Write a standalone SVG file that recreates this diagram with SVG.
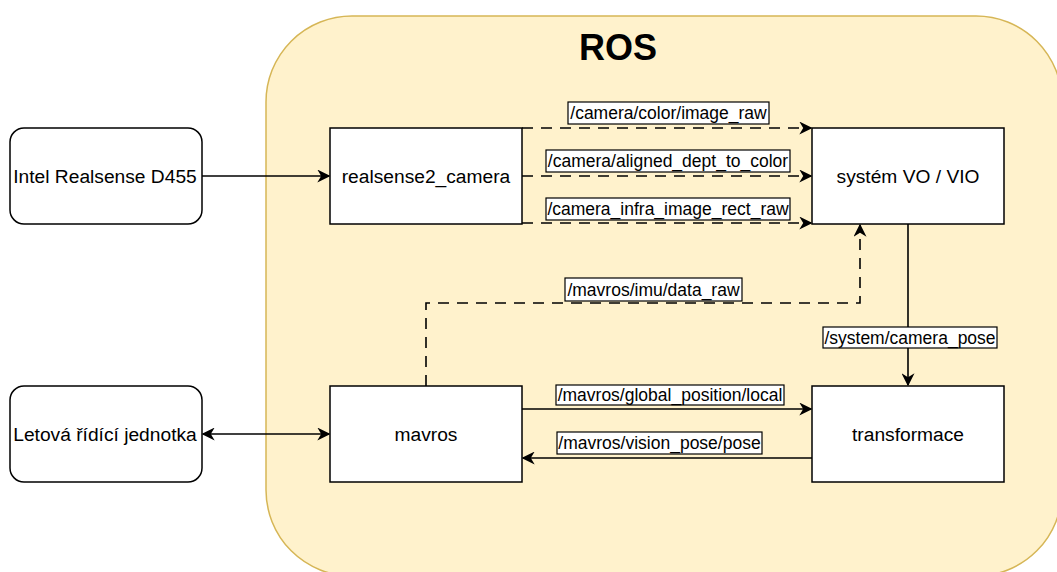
<svg xmlns="http://www.w3.org/2000/svg" width="1057" height="572" viewBox="0 0 1057 572">
<defs>
<style>
.node{fill:#fff;stroke:#000;stroke-width:1.5}
.t{font-family:"Liberation Sans",Arial,sans-serif;font-size:19.2px;fill:#000;text-anchor:middle;dominant-baseline:central}
.lt{font-family:"Liberation Sans",Arial,sans-serif;font-size:17.5px;fill:#000;text-anchor:middle;dominant-baseline:central}
.lb{fill:#fff;stroke:#000;stroke-width:1.2}
.e{fill:none;stroke:#000;stroke-width:1.6}
.d{stroke-dasharray:11 8}
</style>
<marker id="a" viewBox="0 0 10 10" refX="9" refY="5" markerWidth="13" markerHeight="13" markerUnits="userSpaceOnUse" orient="auto-start-reverse">
<path d="M0,0 L10,5 L0,10 L3,5 Z" fill="#000"/>
</marker>
</defs>
<g id="ros">
<rect x="266" y="16" width="796" height="560" rx="86" ry="86" fill="#fff2cc" stroke="#d6b656" stroke-width="1.5"/>
<text x="618" y="47" font-family="Liberation Sans,Arial,sans-serif" font-size="36" font-weight="bold" text-anchor="middle" dominant-baseline="central">ROS</text>
</g>
<g id="connectors">
<path class="e" d="M202,176 H329" marker-end="url(#a)"/>
<path class="e d" d="M522,128 H811" marker-end="url(#a)"/>
<path class="e d" d="M522,176 H811" marker-end="url(#a)"/>
<path class="e d" d="M522,223 H811" marker-end="url(#a)"/>
<path class="e d" d="M426,386 V303 H860 V225" marker-end="url(#a)"/>
<path class="e" d="M908,224 V385" marker-end="url(#a)"/>
<path class="e" d="M522,409 H811" marker-end="url(#a)"/>
<path class="e" d="M812,458 H523" marker-end="url(#a)"/>
<path class="e" d="M203,434 H329" marker-start="url(#a)" marker-end="url(#a)"/>
<rect class="lb" x="568" y="102" width="201" height="22"/>
<text class="lt" x="668.5" y="113">/camera/color/image_raw</text>
<rect class="lb" x="546" y="150" width="244" height="22"/>
<text class="lt" x="668" y="161">/camera/aligned_dept_to_color</text>
<rect class="lb" x="546" y="198" width="244" height="22"/>
<text class="lt" x="668" y="209">/camera_infra_image_rect_raw</text>
<rect class="lb" x="565" y="278" width="177" height="23"/>
<text class="lt" x="653.5" y="289.5">/mavros/imu/data_raw</text>
<rect class="lb" x="823" y="327" width="174" height="21"/>
<text class="lt" x="910" y="337.5">/system/camera_pose</text>
<rect class="lb" x="556" y="385" width="228" height="20"/>
<text class="lt" x="670" y="395">/mavros/global_position/local</text>
<rect class="lb" x="557" y="432" width="205" height="22"/>
<text class="lt" x="659.5" y="443">/mavros/vision_pose/pose</text>
</g>
<g id="n-intel">
<rect class="node" x="10" y="128" width="192" height="96" rx="14"/>
<text class="t" x="105" y="176">Intel Realsense D455</text>
</g>
<g id="n-realsense2">
<rect class="node" x="330" y="128" width="192" height="96"/>
<text class="t" x="426" y="176">realsense2_camera</text>
</g>
<g id="n-vo">
<rect class="node" x="812" y="128" width="192" height="96"/>
<text class="t" x="908" y="176">systém VO / VIO</text>
</g>
<g id="n-letova">
<rect class="node" x="10" y="386" width="192" height="96" rx="14"/>
<text class="t" x="105" y="434">Letová řídící jednotka</text>
</g>
<g id="n-mavros">
<rect class="node" x="330" y="386" width="192" height="96"/>
<text class="t" x="426" y="434">mavros</text>
</g>
<g id="n-transformace">
<rect class="node" x="812" y="386" width="192" height="96"/>
<text class="t" x="908" y="434">transformace</text>
</g>
</svg>
